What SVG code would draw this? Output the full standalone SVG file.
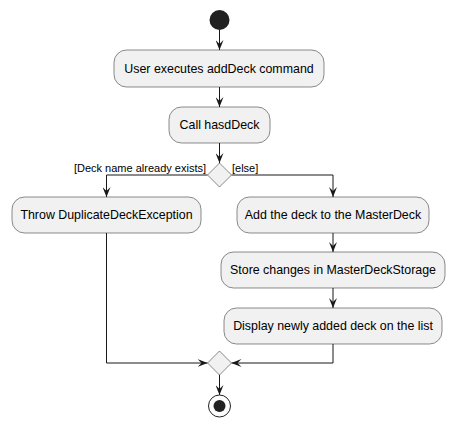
<svg xmlns="http://www.w3.org/2000/svg" width="455" height="426" viewBox="0 0 455 426">
<style>
.box{fill:#F1F1F1;stroke:#181818;stroke-width:0.5}
.dia{fill:#F1F1F1;stroke:#181818;stroke-width:0.5}
.t{font-family:"Liberation Sans",Arial,sans-serif;font-size:12.4px;fill:#000;text-anchor:middle}
.lbl{font-family:"Liberation Sans",Arial,sans-serif;font-size:11px;fill:#000}
.c{fill:none;stroke:#181818;stroke-width:1;marker-end:url(#ah)}
</style>
<defs>
<marker id="ah" markerUnits="userSpaceOnUse" markerWidth="10" markerHeight="8" viewBox="0 0 10 8" refX="10" refY="4" orient="auto">
<path d="M0,0 L10,4 L0,8 L4,4 Z" fill="#181818"/>
</marker>
</defs>
<rect width="455" height="426" fill="#FFFFFF"/>
<g id="connectors">
<path class="c" d="M219.5,30 L219.5,50"/>
<path class="c" d="M219.5,87 L219.5,107"/>
<path class="c" d="M219.5,143 L219.5,163"/>
<path class="c" d="M207.5,175 L106.5,175 L106.5,197"/>
<path class="c" d="M231.5,175 L333,175 L333,197"/>
<path class="c" d="M333,233 L333,252"/>
<path class="c" d="M333,288 L333,308"/>
<path class="c" d="M106.5,233 L106.5,363 L207.5,363"/>
<path class="c" d="M333,344 L333,363 L231.5,363"/>
<path class="c" d="M219.5,375 L219.5,395"/>
<text class="lbl" x="206" y="172" text-anchor="end">[Deck name already exists]</text>
<text class="lbl" x="232" y="172">[else]</text>
</g>
<g id="start"><circle cx="219.5" cy="20" r="10" fill="#222222"/></g>
<g id="n1"><rect class="box" x="114" y="50" width="210" height="37" rx="12.5"/><text class="t" x="219" y="73">User executes addDeck command</text></g>
<g id="n2"><rect class="box" x="169" y="107" width="101" height="36" rx="12.5"/><text class="t" x="219.5" y="129">Call hasdDeck</text></g>
<g id="d1"><polygon class="dia" points="219.5,163 231.5,175 219.5,187 207.5,175"/></g>
<g id="n3"><rect class="box" x="12" y="197" width="189" height="36" rx="12.5"/><text class="t" x="106.5" y="219">Throw DuplicateDeckException</text></g>
<g id="n4"><rect class="box" x="237" y="197" width="192" height="36" rx="12.5"/><text class="t" x="333" y="219">Add the deck to the MasterDeck</text></g>
<g id="n5"><rect class="box" x="221" y="252" width="224" height="36" rx="12.5"/><text class="t" x="333" y="274">Store changes in MasterDeckStorage</text></g>
<g id="n6"><rect class="box" x="224" y="308" width="218" height="36" rx="12.5"/><text class="t" x="333" y="330">Display newly added deck on the list</text></g>
<g id="d2"><polygon class="dia" points="219.5,351 231.5,363 219.5,375 207.5,363"/></g>
<g id="end"><circle cx="219.5" cy="406" r="11" fill="none" stroke="#222222" stroke-width="1"/><circle cx="219.5" cy="406" r="6" fill="#222222"/></g>
</svg>
